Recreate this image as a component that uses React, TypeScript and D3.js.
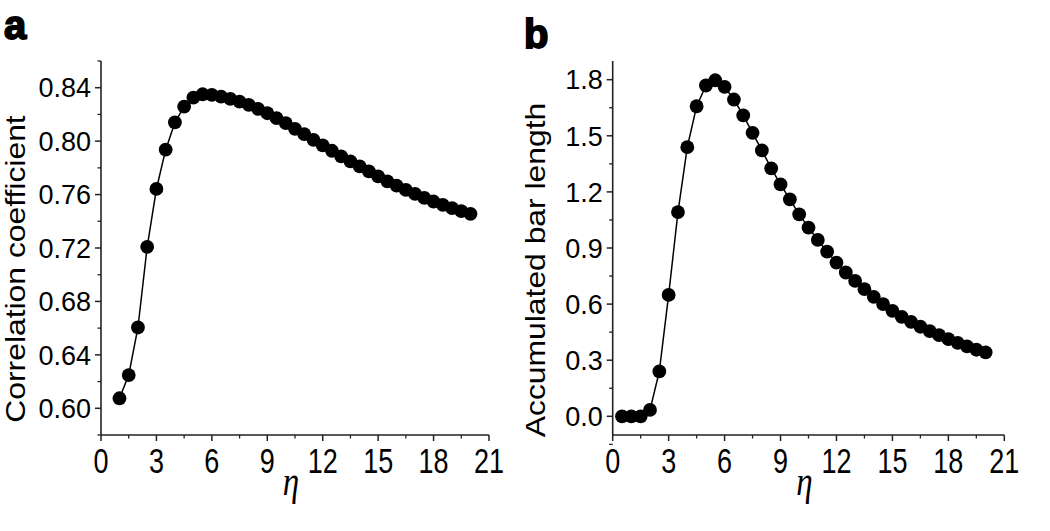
import React from "react";
import * as d3 from "d3";

const etaA = [1, 1.5, 2, 2.5, 3, 3.5, 4, 4.5, 5, 5.5, 6, 6.5, 7, 7.5, 8, 8.5, 9, 9.5, 10, 10.5, 11, 11.5, 12, 12.5, 13, 13.5, 14, 14.5, 15, 15.5, 16, 16.5, 17, 17.5, 18, 18.5, 19, 19.5, 20];
const corrA = [0.6075, 0.6249, 0.6605, 0.7209, 0.7642, 0.7936, 0.814, 0.8259, 0.8326, 0.8351, 0.8346, 0.8334, 0.8316, 0.8296, 0.8272, 0.8242, 0.8209, 0.8172, 0.8135, 0.8092, 0.8053, 0.801, 0.7968, 0.7928, 0.7886, 0.7849, 0.7811, 0.7774, 0.7736, 0.7699, 0.7667, 0.7635, 0.7605, 0.7575, 0.7548, 0.7523, 0.7499, 0.7476, 0.7456];

const etaB = [0.5, 1, 1.5, 2, 2.5, 3, 3.5, 4, 4.5, 5, 5.5, 6, 6.5, 7, 7.5, 8, 8.5, 9, 9.5, 10, 10.5, 11, 11.5, 12, 12.5, 13, 13.5, 14, 14.5, 15, 15.5, 16, 16.5, 17, 17.5, 18, 18.5, 19, 19.5, 20];
const barB = [0.0, 0.0, 0.0, 0.034, 0.24, 0.649, 1.092, 1.439, 1.658, 1.769, 1.797, 1.762, 1.694, 1.609, 1.516, 1.422, 1.326, 1.24, 1.16, 1.08, 1.009, 0.943, 0.881, 0.822, 0.769, 0.724, 0.68, 0.639, 0.6, 0.564, 0.532, 0.505, 0.479, 0.456, 0.434, 0.413, 0.393, 0.374, 0.356, 0.342];

const xTicks = [0, 3, 6, 9, 12, 15, 18, 21];
const xMinor = [1.5, 4.5, 7.5, 10.5, 13.5, 16.5, 19.5];
const yTicksA = [0.6, 0.64, 0.68, 0.72, 0.76, 0.8, 0.84];
const yMinorA = [0.58, 0.62, 0.66, 0.7, 0.74, 0.78, 0.82, 0.86];
const yTicksB = [0.0, 0.3, 0.6, 0.9, 1.2, 1.5, 1.8];
const yMinorB = [-0.15, 0.15, 0.45, 0.75, 1.05, 1.35, 1.65];

const FONT = "'Liberation Sans', Arial, sans-serif";
const AXIS = "#222";

type PanelProps = {
  left: number;
  right: number;
  top: number;
  bottom: number;
  yDomain: [number, number];
  xs: number[];
  ys: number[];
  yTicks: number[];
  yMinor: number[];
  yFmt: (v: number) => string;
  yTitle: string;
  titleX: number;
  titleY: number;
  letter: string;
  letterX: number;
  letterY: number;
};

function Panel(p: PanelProps) {
  const x = d3.scaleLinear().domain([0, 21]).range([p.left, p.right]);
  const y = d3.scaleLinear().domain(p.yDomain).range([p.bottom, p.top]);
  const line = d3
    .line<number>()
    .x((_, i) => x(p.xs[i]))
    .y((d) => y(d));
  const cx = (p.left + p.right) / 2;
  return (
    <g>
      <text x={p.letterX} y={p.letterY} fontFamily={FONT} fontWeight={900} fontSize={40} fill="#000" stroke="#000" strokeWidth={1.8}>
        {p.letter}
      </text>
      <line x1={p.left} x2={p.left} y1={p.top} y2={p.bottom} stroke={AXIS} strokeWidth={1.6} />
      <line x1={p.left} x2={p.right} y1={p.bottom} y2={p.bottom} stroke={AXIS} strokeWidth={1.6} />
      {p.yTicks.map((t) => (
        <g key={"yt" + t}>
          <line x1={p.left - 6} x2={p.left} y1={y(t)} y2={y(t)} stroke={AXIS} strokeWidth={1.5} />
          <text x={p.left - 10} y={y(t)} dy="0.36em" textAnchor="end" fontFamily={FONT} fontSize={27} fill="#000">
            {p.yFmt(t)}
          </text>
        </g>
      ))}
      {p.yMinor.map((t) => (
        <line key={"ym" + t} x1={p.left - 3.5} x2={p.left} y1={y(t)} y2={y(t)} stroke={AXIS} strokeWidth={1.3} />
      ))}
      {xTicks.map((t) => (
        <g key={"xt" + t}>
          <line x1={x(t)} x2={x(t)} y1={p.bottom} y2={p.bottom + 6} stroke={AXIS} strokeWidth={1.5} />
          <g transform={`translate(${x(t)},${p.bottom + 38}) scale(1,1.3)`}>
            <text x={0} y={0} textAnchor="middle" fontFamily={FONT} fontSize={27} fill="#000">
              {t}
            </text>
          </g>
        </g>
      ))}
      {xMinor.map((t) => (
        <line key={"xm" + t} x1={x(t)} x2={x(t)} y1={p.bottom} y2={p.bottom + 3.5} stroke={AXIS} strokeWidth={1.3} />
      ))}
      <g transform={`translate(${p.titleX},${p.titleY}) rotate(-90) scale(1.18,1)`}>
        <text x={0} y={0} textAnchor="middle" fontFamily={FONT} fontSize={27} fill="#000">
          {p.yTitle}
        </text>
      </g>
      <g transform={`translate(${cx - 4},${p.bottom + 60}) scale(1,1.25)`}>
        <text x={0} y={0} textAnchor="middle" fontFamily="'Liberation Serif', 'Times New Roman', serif" fontStyle="italic" fontSize={33} fill="#000">
          η
        </text>
      </g>
      <path d={line(p.ys) || ""} fill="none" stroke="#000" strokeWidth={1.5} />
      {p.ys.map((v, i) => (
        <circle key={"c" + i} cx={x(p.xs[i])} cy={y(v)} r={6.9} fill="#000" />
      ))}
    </g>
  );
}

export default function App() {
  return (
    <svg width={1050} height={531} style={{ position: "absolute", left: 0, top: 0, background: "#fff" }}>
      <rect x={0} y={0} width={1050} height={531} fill="#fff" />
      <Panel
        left={101}
        right={489}
        top={61}
        bottom={435}
        yDomain={[0.58, 0.86]}
        xs={etaA}
        ys={corrA}
        yTicks={yTicksA}
        yMinor={yMinorA}
        yFmt={(v) => v.toFixed(2)}
        yTitle="Correlation coefficient"
        titleX={25}
        titleY={269}
        letter="a"
        letterX={4}
        letterY={39}
      />
      <Panel
        left={612.7}
        right={1004.3}
        top={61}
        bottom={435}
        yDomain={[-0.1, 1.9]}
        xs={etaB}
        ys={barB}
        yTicks={yTicksB}
        yMinor={yMinorB}
        yFmt={(v) => v.toFixed(1)}
        yTitle="Accumulated bar length"
        titleX={545}
        titleY={270}
        letter="b"
        letterX={524}
        letterY={48}
      />
    </svg>
  );
}
